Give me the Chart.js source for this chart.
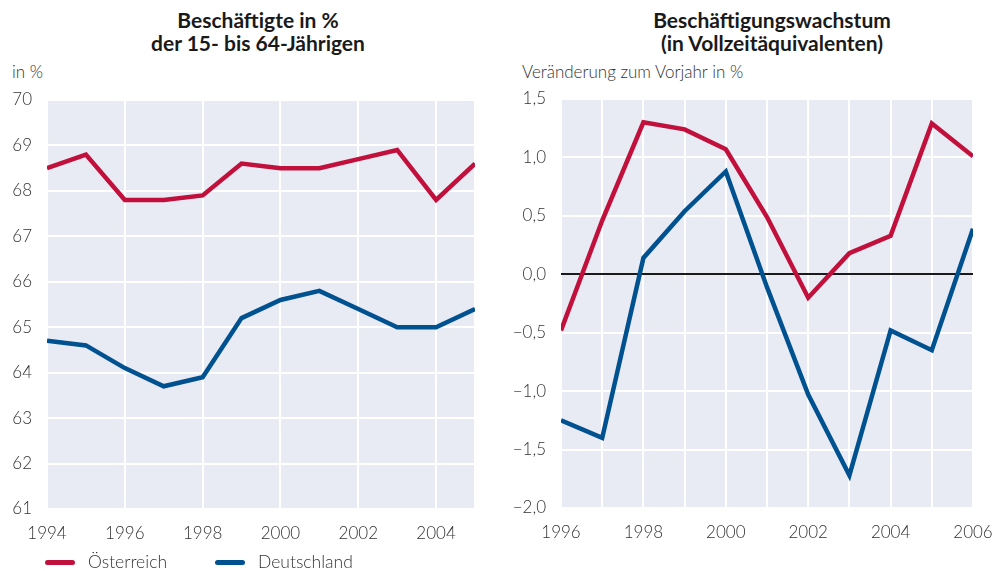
<!DOCTYPE html>
<html lang="de">
<head>
<meta charset="utf-8">
<title>Beschäftigung Österreich / Deutschland</title>
<script src="https://cdn.jsdelivr.net/npm/chart.js@4.4.1/dist/chart.umd.min.js"></script>
<style>
  body { margin:0; background:#fff; width:997px; height:571px; overflow:hidden; position:relative; font-family:Lato, "Open Sans", sans-serif; color:#333; }
  .box { position:absolute; top:0; }
  .titel { position:absolute; text-align:center; font-weight:700; font-size:21px; line-height:23px; color:#1a1a1a; }
  .einheit { position:absolute; font-size:17px; font-weight:300; color:#333; }
  .leg { position:absolute; top:551px; font-size:17.5px; font-weight:300; color:#333; }
  .leg span.linie { position:absolute; top:9px; width:30px; height:5px; border-radius:3px; }
</style>
</head>
<body>

<div class="titel" style="left:56px;width:404px;top:8px;">Beschäftigte in %<br>der 15- bis 64-Jährigen</div>
<div class="titel" style="left:570px;width:404px;top:8px;">Beschäftigungswachstum<br>(in Vollzeitäquivalenten)</div>
<div class="einheit" style="left:12px;top:61px;">in %</div>
<div class="einheit" style="left:522px;top:61px;">Veränderung zum Vorjahr in %</div>

<div class="box" style="left:0;width:490px;height:571px;"><canvas id="chartQuote" width="490" height="571"></canvas></div>
<div class="box" style="left:497px;width:500px;height:571px;"><canvas id="chartWachstum" width="500" height="571"></canvas></div>

<div class="leg" style="left:45px;"><span class="linie" style="left:0;background:#c0103b;"></span><span style="position:absolute;left:43px;white-space:nowrap;">Österreich</span></div>
<div class="leg" style="left:215px;"><span class="linie" style="left:0;background:#00518f;"></span><span style="position:absolute;left:43px;white-space:nowrap;">Deutschland</span></div>

<script>
// Daten – links: Beschäftigungsquote, rechts: Wachstum in VZÄ
const jahreQuote = [1994, 1995, 1996, 1997, 1998, 1999, 2000, 2001, 2002, 2003, 2004, 2005];
const quoteOesterreich = [68.5, 68.8, 67.8, 67.8, 67.9, 68.6, 68.5, 68.5, 68.7, 68.9, 67.8, 68.6];
const quoteDeutschland = [64.7, 64.6, 64.1, 63.7, 63.9, 65.2, 65.6, 65.8, 65.4, 65.0, 65.0, 65.4];
const xTicksQuote = [1994, 1996, 1998, 2000, 2002, 2004, 2005];
const xLabelsQuote = [1994, 1996, 1998, 2000, 2002, 2004];
const yTicksQuote = [61, 62, 63, 64, 65, 66, 67, 68, 69, 70];

const jahreWachstum = [1996, 1997, 1998, 1999, 2000, 2001, 2002, 2003, 2004, 2005, 2006];
const wachstumOesterreich = [-0.48, 0.46, 1.30, 1.24, 1.07, 0.49, -0.20, 0.18, 0.33, 1.29, 1.01];
const wachstumDeutschland = [-1.25, -1.40, 0.14, 0.54, 0.88, -0.11, -1.03, -1.72, -0.48, -0.65, 0.39];
const xTicksWachstum = [1996, 1997, 1998, 1999, 2000, 2001, 2002, 2003, 2004, 2005, 2006];
const xLabelsWachstum = [1996, 1998, 2000, 2002, 2004, 2006];
const yTicksWachstum = [-2.0, -1.5, -1.0, -0.5, 0.0, 0.5, 1.0, 1.5];

const ROT = '#c0103b';
const BLAU = '#00518f';
const fontTicks = { family: 'Lato', size: 17, weight: '300' };

// Hintergrund der Plotfläche
const flaeche = {
  id: 'flaeche',
  beforeDraw(chart) {
    const a = chart.chartArea;
    const c = chart.ctx;
    c.save();
    c.fillStyle = '#e8eaf4';
    c.fillRect(a.left, a.top, a.right - a.left, a.bottom - a.top);
    c.restore();
  }
};

function linie(jahre, werte, farbe) {
  return {
    data: jahre.map((j, i) => ({ x: j, y: werte[i] })),
    borderColor: farbe,
    borderWidth: 4.5,
    pointRadius: 0,
    tension: 0,
    borderJoinStyle: 'miter',
    borderCapStyle: 'butt'
  };
}

function basisOptionen(cfg) {
  return {
    responsive: false,
    animation: false,
    layout: { padding: cfg.padding },
    plugins: { legend: { display: false }, tooltip: { enabled: false } },
    scales: {
      x: {
        type: 'linear',
        min: cfg.xMin, max: cfg.xMax,
        afterBuildTicks: s => { s.ticks = cfg.xTicks.map(v => ({ value: v })); },
        // feste Höhe, keine automatische Randreserve für das letzte Label
        afterFit: s => { s.height = 30; s.paddingLeft = 0; s.paddingRight = 0; },
        border: { display: false },
        grid: { color: '#ffffff', lineWidth: 2, drawTicks: false },
        ticks: {
          font: fontTicks, color: '#333', padding: 14, autoSkip: false, maxRotation: 0,
          callback: v => cfg.xLabels.includes(v) ? String(v) : ''
        }
      },
      y: {
        min: cfg.yMin, max: cfg.yMax,
        afterBuildTicks: s => { s.ticks = cfg.yTicks.map(v => ({ value: v })); },
        afterFit: s => { s.width = cfg.yWidth; s.paddingTop = 0; s.paddingBottom = 0; },
        border: { display: false },
        grid: {
          drawTicks: false,
          color: c => (cfg.nullLinie && c.tick && c.tick.value === 0) ? '#1a1a1a' : '#ffffff',
          lineWidth: 2
        },
        ticks: { font: fontTicks, color: '#333', padding: 15, callback: cfg.yFormat }
      }
    }
  };
}

new Chart(document.getElementById('chartQuote'), {
  type: 'line',
  data: {
    datasets: [
      linie(jahreQuote, quoteDeutschland, BLAU),
      linie(jahreQuote, quoteOesterreich, ROT)
    ]
  },
  options: basisOptionen({
    padding: { top: 100, right: 15, bottom: 32, left: 0 },
    xMin: 1994, xMax: 2005, xTicks: xTicksQuote, xLabels: xLabelsQuote,
    yMin: 61, yMax: 70, yTicks: yTicksQuote, yWidth: 47,
    yFormat: v => String(v)
  }),
  plugins: [flaeche]
});

new Chart(document.getElementById('chartWachstum'), {
  type: 'line',
  data: {
    datasets: [
      linie(jahreWachstum, wachstumDeutschland, BLAU),
      linie(jahreWachstum, wachstumOesterreich, ROT)
    ]
  },
  options: basisOptionen({
    padding: { top: 99, right: 24, bottom: 33, left: 0 },
    xMin: 1996, xMax: 2006, xTicks: xTicksWachstum, xLabels: xLabelsWachstum,
    yMin: -2, yMax: 1.5, yTicks: yTicksWachstum, yWidth: 64, nullLinie: true,
    yFormat: v => v.toFixed(1).replace('.', ',').replace('-', '\u2212')
  }),
  plugins: [flaeche]
});
</script>
</body>
</html>
